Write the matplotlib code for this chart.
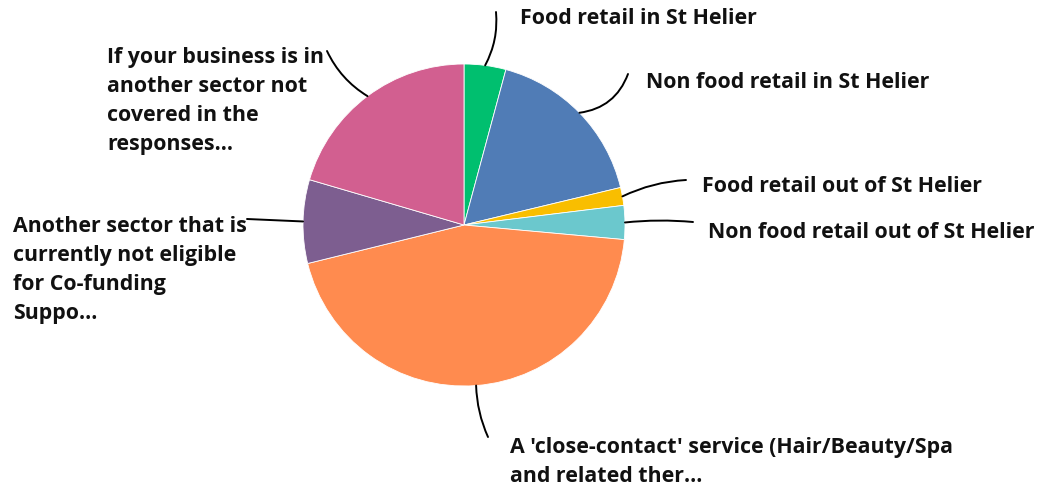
import numpy as np
import matplotlib.pyplot as plt

plt.rcParams['font.family'] = ['Open Sans', 'DejaVu Sans']

labels = [
    "Food retail in St Helier",
    "Non food retail in St Helier",
    "Food retail out of St Helier",
    "Non food retail out of St Helier",
    "A 'close-contact' service (Hair/Beauty/Spa\nand related ther...",
    "Another sector that is\ncurrently not eligible\nfor Co-funding\nSuppo...",
    "If your business is in\nanother sector not\ncovered in the\nresponses...",
]
shares = [4.2, 17.1, 1.8, 3.4, 44.8, 8.4, 20.5]
colors = ['#00BF6F', '#507CB6', '#F9BE00', '#6BC8CD', '#FF8B4F', '#7D5E90', '#D25F90']

W, H = 1039, 491
cx, cy, r = 464, H - 225, 161

# where each leader line ends and where its label sits (pixels from top-left)
line_end = [(496, 12), (628, 74), (686, 180), (693, 222), (488, 437), (247, 219), (327, 51)]
text_pos = [(520, 18), (646, 82), (702, 186), (708, 232), (510, 462), (13, 270), (107, 101)]
rads = [-0.15, -0.3, 0.1, 0.05, -0.1, 0.0, 0.15]


def main():
    fig = plt.figure(figsize=(W / 100, H / 100), dpi=100)
    ax = fig.add_axes([0, 0, 1, 1])

    wedges, _ = ax.pie(shares, colors=colors, startangle=90, counterclock=False,
                       center=(cx, cy), radius=r,
                       wedgeprops=dict(edgecolor='white', linewidth=0.6))
    ax.set_xlim(0, W)
    ax.set_ylim(0, H)
    ax.set_aspect('equal')
    ax.axis('off')

    for w, lab, end, pos, rad in zip(wedges, labels, line_end, text_pos, rads):
        mid = np.deg2rad((w.theta1 + w.theta2) / 2)
        x0 = cx + r * np.cos(mid)
        y0 = cy + r * np.sin(mid)
        ax.annotate('', xy=(x0, y0), xytext=(end[0], H - end[1]),
                    arrowprops=dict(arrowstyle='-', color='black', lw=1.4,
                                    shrinkA=0, shrinkB=0,
                                    connectionstyle=f'arc3,rad={rad}'))
        ax.text(pos[0], H - pos[1], lab, ha='left', va='center', fontsize=15.4,
                fontweight='bold', color='#111111', linespacing=1.52)

    fig.savefig('out.png', dpi=100)


if __name__ == "__main__":
    main()
